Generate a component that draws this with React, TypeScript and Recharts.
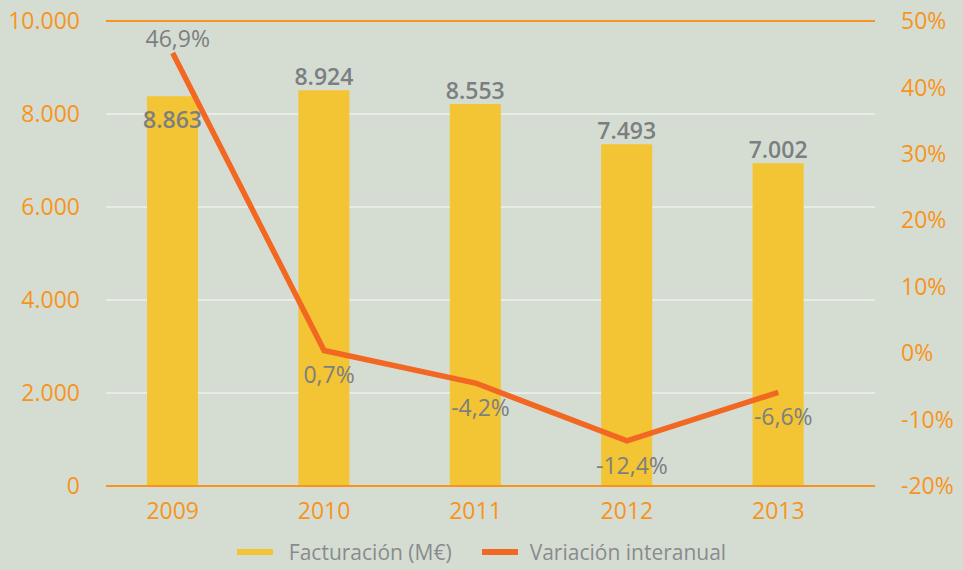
import React from 'react';
import { ComposedChart, Bar, Line, XAxis, YAxis, CartesianGrid, Legend, LabelList, ReferenceLine } from 'recharts';

const years = ['2009', '2010', '2011', '2012', '2013'];
// bar heights as drawn in the picture (M€)
const billing = [8381, 8510, 8215, 7348, 6940];
const billingLabels = ['8.863', '8.924', '8.553', '7.493', '7.002'];
// year-on-year change (%), as drawn
const variation = [45.2, 0.4, -4.5, -13.2, -5.9];
const variationLabels = ['46,9%', '0,7%', '-4,2%', '-12,4%', '-6,6%'];
const leftTicks = [0, 2000, 4000, 6000, 8000, 10000];
const rightTicks = [-20, -10, 0, 10, 20, 30, 40, 50];

const data = years.map((year, i) => ({ year, billing: billing[i], variation: variation[i] }));

const FONT = '"Open Sans", "Noto Sans", sans-serif';
const ORANGE = '#f7941d';
const YELLOW = '#f3c433';
const RED = '#f26722';
const GRAY = '#7c7f82';
const BG = '#d5ddd2';

const fmtThousands = (v: number) => (v >= 1000 ? `${Math.floor(v / 1000)}.${String(v % 1000).padStart(3, '0')}` : String(v));

const BarLabel = (props: any) => {
  const { x, y, width, index } = props;
  const cy = index === 0 ? y + 23 : y - 14;
  return (
    <text x={x + width / 2} y={cy} textAnchor="middle" dominantBaseline="central"
      fill={GRAY} fontSize={23} fontWeight={600} fontFamily={FONT}>
      {billingLabels[index]}
    </text>
  );
};

const LineLabel = (props: any) => {
  const { x, y, index } = props;
  const cy = index === 0 ? y - 15 : y + 24;
  return (
    <text x={x + 5} y={cy} textAnchor="middle" dominantBaseline="central"
      fill={GRAY} fontSize={23} fontFamily={FONT}>
      {variationLabels[index]}
    </text>
  );
};

const LegendContent = () => (
  <div style={{ height: 36, boxSizing: 'border-box', paddingTop: 8, display: 'flex', justifyContent: 'center', alignItems: 'center', fontFamily: FONT, fontSize: 21, lineHeight: '22px', color: '#888b8e' }}>
    <div style={{ display: 'flex', alignItems: 'center', height: 22 }}>
      <span style={{ width: 36, height: 6, background: YELLOW, marginRight: 16 }} />
      <span style={{ whiteSpace: 'nowrap' }}>Facturación (M€)</span>
      <span style={{ width: 36, height: 6, background: RED, marginLeft: 30, marginRight: 12 }} />
      <span style={{ whiteSpace: 'nowrap' }}>Variación interanual</span>
    </div>
  </div>
);

export default function App() {
  return (
    <div style={{ position: 'fixed', left: 0, top: 0, width: 963, height: 570, background: BG, overflow: 'hidden' }}>
      <ComposedChart width={963} height={570} data={data} margin={{ top: 21, right: 0, left: 0, bottom: 4 }}>
        <CartesianGrid yAxisId="left" vertical={false} stroke="#eef0ea" strokeWidth={1.5} />
        <XAxis dataKey="year" height={44} padding={{ left: -9, right: 21 }}
          axisLine={{ stroke: ORANGE, strokeWidth: 2 }} tickLine={false} tickSize={0} tickMargin={17}
          tick={{ fill: ORANGE, fontSize: 23, fontFamily: FONT }} />
        <YAxis yAxisId="left" width={106} domain={[0, 10000]} ticks={leftTicks} interval={0}
          axisLine={false} tickLine={false} tickSize={0} tickMargin={26} tickFormatter={fmtThousands}
          tick={{ fill: ORANGE, fontSize: 23, fontFamily: FONT }} />
        <YAxis yAxisId="right" orientation="right" width={88} domain={[-20, 50]} ticks={rightTicks} interval={0}
          axisLine={false} tickLine={false} tickSize={0} tickMargin={26} tickFormatter={(v: number) => `${v}%`}
          tick={{ fill: ORANGE, fontSize: 23, fontFamily: FONT, textAnchor: 'start' }} />
        <ReferenceLine yAxisId="left" y={10000} stroke={ORANGE} strokeWidth={2} />
        <Legend verticalAlign="bottom" content={<LegendContent />} />
        <Bar yAxisId="left" dataKey="billing" name="Facturación (M€)" fill={YELLOW} barSize={51} isAnimationActive={false}>
          <LabelList dataKey="billing" content={<BarLabel />} />
        </Bar>
        <Line yAxisId="right" dataKey="variation" name="Variación interanual" stroke={RED} strokeWidth={5.5}
          dot={false} activeDot={false} type="linear" isAnimationActive={false}>
          <LabelList dataKey="variation" content={<LineLabel />} />
        </Line>
      </ComposedChart>
    </div>
  );
}
